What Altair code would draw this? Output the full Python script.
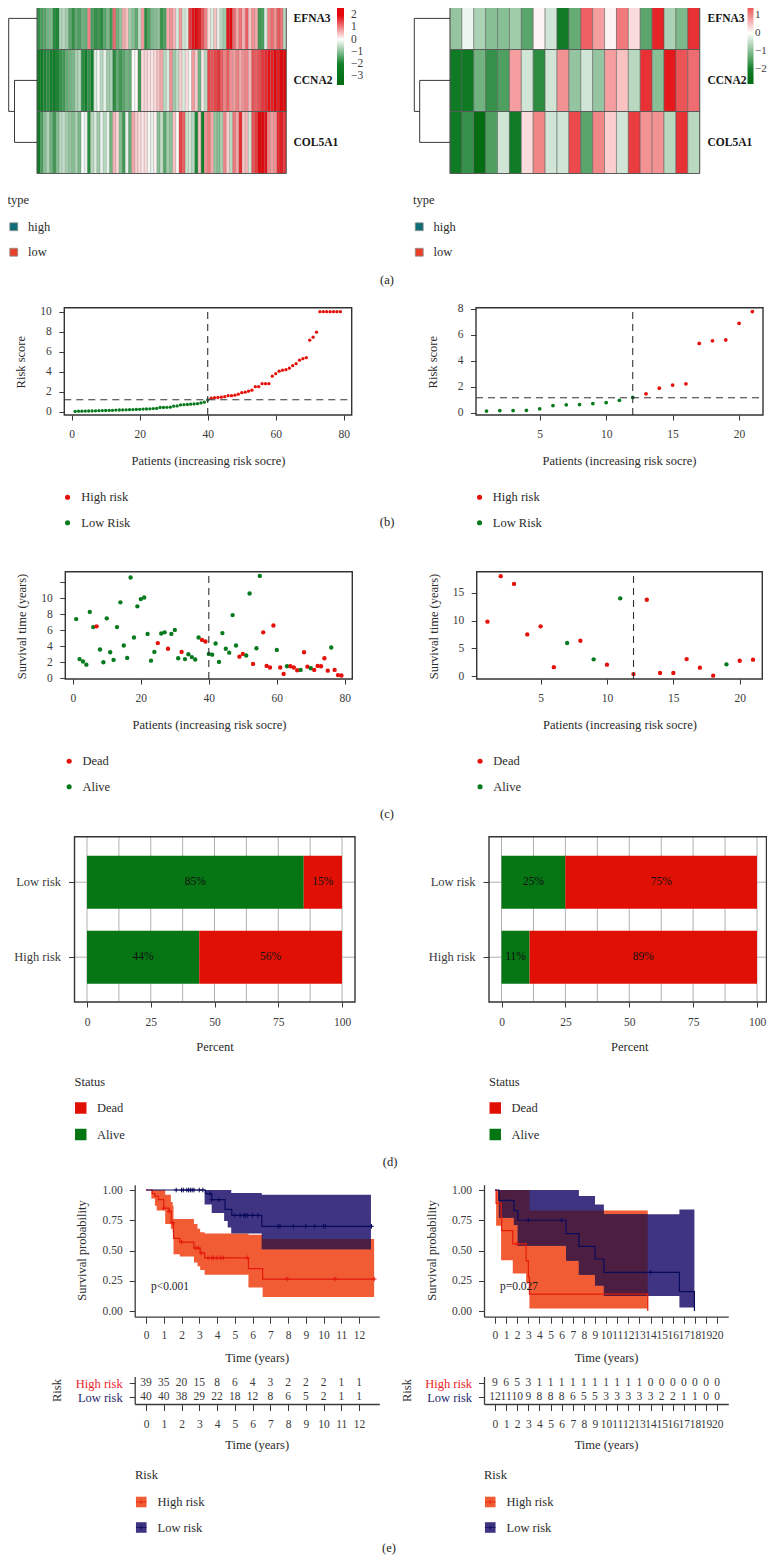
import altair as alt
import pandas as pd

FONT = "Liberation Serif"
FS = 11.5
TS = 12.5
W = 759
H = 1548
TXT = "#2b2b2b"
TICK = "#3a3a3a"
RED = "#e4100a"
GREEN = "#087a1e"
BAR_RED = "#e01005"
BAR_GREEN = "#067514"
LINE_RED = "#e41a0c"
LINE_BLUE = "#0a0a5c"
BAND_RED = "#f25c35"
BAND_BLUE = "#3e3482"
OVERLAP = "#4c1f42"

GENES = ["EFNA3", "CCNA2", "COL5A1"]
L_EFNA3 = [-1.7,-1.5,-1.4,-1.2,-1.1,-1.8,-1.9,-0.7,-0.6,-0.8,-1.4,-1.7,-1.3,-1.5,-1.2,-1.3,1.0,-1.5,-1.7,-1.6,
           -1.8,-1.4,-1.1,-1.6,1.2,-1.2,-0.9,0.7,0.5,-0.8,-1.0,-1.3,-0.5,0.8,-1.8,-1.5,-1.1,-1.0,-0.9,-1.7,
           -1.5,0.7,0.9,0.6,-0.3,0.8,-0.4,-0.3,1.6,1.9,2.0,1.8,1.4,1.0,0.3,-0.3,0.5,-0.2,-0.6,-0.8,
           1.9,2.0,1.2,0.7,1.1,0.6,1.3,0.5,0.9,0.7,-1.6,-1.5,-0.3,1.0,1.2,0.9,1.3,1.1,-0.6]
L_CCNA2 = [-2.4,-2.2,-1.9,-1.8,-2.0,-2.2,-1.9,-1.7,-1.6,-1.3,-1.2,-1.1,-0.7,-0.6,-1.8,-2.0,-1.7,-2.0,-0.3,-0.1,
           -0.6,-0.2,-0.8,-0.7,-1.8,-1.3,-1.6,-1.4,-1.2,-1.3,0.0,0.05,-1.6,0.3,0.35,0.25,0.2,0.3,0.5,0.7,
           -0.6,-0.3,0.9,-0.8,-0.5,0.4,-0.3,0.3,-0.1,0.8,0.4,-1.2,0.2,-0.6,1.5,1.4,1.5,1.6,1.3,1.0,
           1.3,0.9,0.8,1.0,0.7,0.9,1.0,0.6,1.4,1.3,1.4,1.6,1.7,1.9,1.8,2.1,1.8,2.0,2.3]
L_COL5A1 = [-2.3,-1.5,-1.0,-0.7,-1.2,-1.6,-1.0,-0.6,-0.5,-0.8,-0.9,-1.0,-0.7,-1.1,0.0,-0.2,-1.8,-0.6,-0.3,-0.8,
            -0.2,-0.6,-0.2,-1.2,0.6,0.3,-1.0,-1.6,-0.2,-1.3,0.7,0.4,0.3,0.2,0.3,-0.1,-0.2,0.1,-1.0,-0.5,
            -1.4,-0.8,-1.0,0.5,0.05,1.5,1.3,-0.5,-0.4,-0.6,-1.9,0.5,-2.0,0.9,1.1,0.7,-0.9,-1.0,-0.7,1.0,
            0.4,-0.6,1.1,0.7,1.7,0.5,0.6,-0.4,1.4,1.6,2.2,2.3,1.9,1.0,0.8,0.9,1.7,1.8,1.6]
R_EFNA3 = [-0.9,-0.15,-0.7,-1.0,-1.0,-0.8,-1.4,0.1,-0.4,-2.1,-1.3,1.3,0.8,0.1,1.1,0.3,-1.4,1.8,-0.7,-1.1,1.7]
R_CCNA2 = [-2.2,-2.2,-1.2,-1.7,-1.5,0.8,-0.4,-1.8,-0.4,0.9,-0.9,-0.4,-0.9,0.8,0.5,-0.6,1.7,-1.0,1.9,1.4,1.2]
R_COL5A1 = [-2.2,-1.7,-2.7,-1.5,-0.4,-2.1,0.3,1.0,-0.4,-0.4,1.5,-1.4,1.0,0.4,-0.4,1.6,0.9,0.9,-0.6,1.7,-0.6]

RISK_L = [0.03,0.05,0.05,0.06,0.07,0.08,0.09,0.1,0.11,0.12,0.13,0.14,0.16,0.17,0.18,0.19,0.2,0.21,0.23,0.24,
          0.26,0.27,0.29,0.31,0.33,0.42,0.43,0.44,0.45,0.55,0.58,0.68,0.7,0.72,0.75,0.78,0.8,0.88,0.95,1.18,
          1.35,1.4,1.42,1.45,1.5,1.6,1.6,1.65,1.75,1.9,1.95,2.05,2.15,2.5,2.5,2.8,2.8,2.8,3.55,3.8,
          4.05,4.15,4.2,4.35,4.6,4.8,5.15,5.3,5.4,7.15,7.45,7.95,10,10,10,10,10,10,10]
RISK_R = [0.12,0.16,0.16,0.18,0.3,0.55,0.6,0.62,0.7,0.78,0.95,1.17,1.45,1.88,2.12,2.22,5.33,5.53,5.6,6.88,7.78]
SURV_L = [7.4,2.4,2.1,1.7,8.3,6.4,6.5,3.6,2.0,7.5,3.25,2.3,6.4,9.5,4.1,2.55,12.6,5.1,9.0,9.9,
          10.1,5.55,2.2,3.3,4.4,5.6,5.75,3.7,5.55,6.05,2.5,3.3,2.4,3.0,2.65,2.35,5.1,4.8,4.6,3.05,
          2.95,4.35,2.05,5.65,3.7,3.2,7.9,4.1,2.7,3.05,2.85,10.6,1.8,3.75,12.8,5.75,1.55,1.35,6.6,3.55,
          1.35,0.55,1.5,1.5,1.35,1.0,1.05,3.25,1.45,1.25,1.05,1.55,1.5,2.5,0.95,3.85,1.05,0.4,0.35]
DEAD_L = [7,25,28,32,38,39,49,50,53,56,57,58,59,61,62,64,65,66,68,69,71,72,73,74,75,77,78,79]
SURV_R = [9.8,18,16.6,7.5,8.95,1.6,5.95,6.35,3.0,2.05,14,0.35,13.75,0.55,0.55,3.05,1.5,0.06,2.1,2.75,2.95]
ALIVE_R = [7,9,11,19]

KM_L_HIGH_T = [0,0.35,0.5,0.7,1.0,1.3,1.42,1.55,1.9,2.7,3.05,3.3,5.77,6.57,12.85]
KM_L_HIGH_S = [1,.97,.95,.92,.85,.825,.73,.60,.57,.52,.48,.44,.35,.264,.264]
KM_L_HIGH_BT = [0.3,0.5,0.6,1.0,1.08,1.4,1.5,1.55,1.9,2.7,2.9,3.05,3.3,5.77,6.57,12.85]
KM_L_HIGH_HI = [1,1,1,1,.96,.90,.87,.76,.76,.72,.68,.65,.64,.63,.595,.595]
KM_L_HIGH_LO = [.93,.87,.83,.83,.72,.68,.65,.47,.45,.40,.37,.34,.30,.195,.115,.115]
KM_L_LOW_T = [0,3.35,3.7,4.45,4.83,6.52,12.75]
KM_L_LOW_S = [1,.97,.92,.84,.79,.70,.70]
KM_L_LOW_BT = [3.3,3.7,4.4,4.6,4.8,6.52,12.67]
KM_L_LOW_HI = [1,1,1,1,.975,.96,.96]
KM_L_LOW_LO = [.88,.81,.745,.69,.64,.51,.51]
CENS_L_HIGH = [(1.0,.85),(1.3,.825),(1.5,.73),(2.0,.57),(2.8,.52),(2.95,.52),(3.1,.48),(3.5,.44),(3.7,.44),(3.8,.44),
               (4.0,.44),(4.2,.44),(4.35,.44),(5.7,.44),(7.95,.264),(10.65,.264),(12.85,.264)]
CENS_L_LOW = [(1.7,1),(2.0,1),(2.1,1),(2.3,1),(2.4,1),(2.5,1),(2.6,1),(2.7,1),(3.0,1),(3.2,1),(3.6,.97),(3.7,.92),(4.1,.92),
              (5.0,.79),(5.3,.79),(5.5,.79),(5.6,.79),(5.7,.79),(6.0,.79),(6.3,.79),(7.45,.70),(7.55,.70),(8.3,.70),
              (9.0,.70),(9.5,.70),(10.0,.70),(10.1,.70),(12.7,.70)]
KM_R_HIGH_T = [0,.1,.55,.6,1.6,2.8,3.0,3.1,13.75]
KM_R_HIGH_S = [1,.89,.78,.665,.555,.415,.28,.14,0]
KM_R_HIGH_BT = [.1,.55,1.6,2.8,3.1,13.75]
KM_R_HIGH_HI = [1,1,1,1,.83,.83]
KM_R_HIGH_LO = [.705,.42,.31,.23,.02,.02]
KM_R_LOW_T = [0,.35,1.7,2.05,6.4,7.55,9.0,9.8,16.6,17.95]
KM_R_LOW_S = [1,.915,.83,.75,.64,.535,.43,.32,.16,0]
KM_R_LOW_BT = [.35,1.7,2.05,6.4,7.55,9.0,9.8,16.6,17.95]
KM_R_LOW_HI = [1,1,1,1,.95,.88,.80,.84,.84]
KM_R_LOW_LO = [.77,.71,.54,.415,.30,.21,.125,.03,.03]
CENS_R_HIGH = [(2.0,.555)]
CENS_R_LOW = [(3.0,.75),(6.0,.75),(14.0,.32)]

TABLE_L_HIGH = [39,35,20,15,8,6,4,3,2,2,2,1,1]
TABLE_L_LOW = [40,40,38,29,22,18,12,8,6,5,2,1,1]
TABLE_R_HIGH = [9,6,5,3,1,1,1,1,1,1,1,1,1,1,0,0,0,0,0,0,0]
TABLE_R_LOW = [12,11,10,9,8,8,8,6,5,5,3,3,3,3,3,2,2,1,1,0,0]
CAPTIONS = [("(a)", 387, 280), ("(b)", 387, 522), ("(c)", 387, 814), ("(d)", 390, 1162), ("(e)", 389, 1548)]


def P(v):
    return v - 8


def qs(dom, a, b):
    return alt.Scale(domain=dom, range=[P(a), P(b)], nice=False, zero=False)


def xaxis(pos, title=None, tcenter=None, tpos=None, values=None, fmt=None, tick=5.0, pad=8.5, domain=False):
    kw = dict(orient="bottom", offset=pos - 8 - H, values=values, grid=False, domain=domain, tickSize=tick,
              tickColor=TICK, domainColor=TICK, tickWidth=1, domainWidth=1.3, labelPadding=pad, labelFont=FONT,
              labelFontSize=FS, labelColor=TICK, labelOverlap=False, labelFlush=False, labelAngle=0)
    if fmt:
        kw["format"] = fmt
    if title:
        kw.update(title=title, titleX=P(tcenter), titleY=tpos - pos, titleBaseline="middle", titleFont=FONT,
                  titleFontSize=TS, titleFontWeight="normal", titleColor=TXT, titleAlign="center")
    else:
        kw["title"] = None
    return alt.Axis(**kw)


def yaxis(pos, title=None, tpos=None, tcenter=None, values=None, fmt=None, tick=5.5, pad=7.5, domain=False, **extra):
    kw = dict(orient="left", offset=-(pos - 8), grid=False, domain=domain, tickSize=tick, tickColor=TICK,
              domainColor=TICK, tickWidth=1, domainWidth=1.3, labelPadding=pad, labelFont=FONT, labelFontSize=FS,
              labelColor=TICK, labelOverlap=False, labelFlush=False)
    if values is not None:
        kw["values"] = values
    if fmt:
        kw["format"] = fmt
    if title:
        kw.update(title=title, titleX=tpos - pos, titleY=P(tcenter), titleBaseline="middle", titleFont=FONT,
                  titleFontSize=TS, titleFontWeight="normal", titleColor=TXT, titleAlign="center", titleAngle=270)
    else:
        kw["title"] = None
    kw.update(extra)
    return alt.Axis(**kw)


def legend(x, y, title=None, rowp=12.5, titlep=13.5, off=10, **kw):
    args = dict(orient="none", legendX=P(x), legendY=P(y), padding=0, labelFont=FONT, labelFontSize=TS,
                labelColor=TXT, rowPadding=rowp, labelOffset=off, title=title, symbolStrokeWidth=0)
    if title:
        args.update(titleFont=FONT, titleFontSize=TS, titleFontWeight="normal", titleColor=TXT, titlePadding=titlep)
    args.update(kw)
    return alt.Legend(**args)


def axes_panel(x_val, y_val, xs, ys, xax, yax, ytype="Q"):
    d = pd.DataFrame({"x": [x_val], "y": [y_val]})
    return alt.Chart(d).mark_point(opacity=0).encode(
        x=alt.X("x:Q", scale=xs, axis=xax),
        y=alt.Y(f"y:{ytype}", scale=ys, axis=yax))


def heatmap(vals, x0, x1, cdom, crange, cbar_x, cbar_y, cbar_len, ticks, sw, lab_pad, lab_off, thick, lab_fs):
    rows = []
    n = len(vals[0])
    for g, arr in zip(GENES, vals):
        for i, v in enumerate(arr):
            rows.append({"gene": g, "col": i + 1, "v": v})
    ys = alt.Scale(type="band", domain=GENES, range=[P(-12.5), P(173.5)], paddingInner=0, paddingOuter=0)
    xs = alt.Scale(type="band", domain=list(range(1, n + 1)), range=[P(x0), P(x1)], paddingInner=0, paddingOuter=0)
    cs = alt.Scale(domain=cdom, range=crange, interpolate="rgb")
    cells = alt.Chart(pd.DataFrame(rows)).mark_rect(stroke="#5a5a5a", strokeWidth=sw).encode(
        x=alt.X("col:O", scale=xs, axis=None),
        y=alt.Y("gene:N", scale=ys, axis=None),
        color=alt.Color("v:Q", scale=cs, legend=alt.Legend(
            orient="none", legendX=P(cbar_x), legendY=P(cbar_y), title=None, padding=0, gradientLength=cbar_len,
            gradientThickness=thick, gradientStrokeWidth=0, values=ticks, labelFont=FONT, labelFontSize=lab_fs,
            labelColor=TICK, labelOffset=lab_off, labelOverlap=False)),
    )
    border = alt.Chart(pd.DataFrame({"gene": GENES, "a": [0, 0, 0], "b": [1, 1, 1]})).mark_rect(
        fillOpacity=0, fill="white", stroke="#5a5a5a", strokeWidth=1).encode(
        x=alt.X("a:Q", scale=qs([0, 1], x0, x1), axis=None),
        x2="b:Q",
        y=alt.Y("gene:N", scale=ys, axis=None),
    )
    labels = axes_panel(0, "CCNA2", qs([0, 1], x0, x1), ys, None,
                        alt.Axis(orient="right", offset=P(x1) - W, title=None, ticks=False, domain=False, grid=False,
                                 labelPadding=lab_pad, labelFont=FONT, labelFontSize=FS, labelFontWeight="bold",
                                 labelColor="#151515", labelOverlap=False), ytype="N")
    return [cells, border, labels]


def dendro(x_root, x_inner, x_leaf):
    xs = qs([0, 1], x_leaf, x_root)
    ys = qs([0, 2], 18.4, 142.4)
    inner_h = (x_leaf - x_inner) / (x_leaf - x_root)
    segs = pd.DataFrame({
        "a": [0, 1, inner_h, 1, 0, 0],
        "b": [1, 1, inner_h, inner_h, inner_h, inner_h],
        "c": [0, 0, 1, 1.5, 1, 2],
        "d": [0, 1.5, 2, 1.5, 1, 2],
    })
    return alt.Chart(segs).mark_rule(color="#222222", strokeWidth=0.9).encode(
        x=alt.X("a:Q", scale=xs, axis=None), x2="b:Q",
        y=alt.Y("c:Q", scale=ys, axis=None), y2="d:Q")


def type_legend(n, split, x0, x1, lx, off):
    d = pd.DataFrame({"col": list(range(1, n + 1)),
                      "type": ["low" if i <= split else "high" for i in range(1, n + 1)],
                      "t": ["a"] * n})
    return alt.Chart(d).mark_rect().encode(
        x=alt.X("col:O", scale=alt.Scale(domain=list(range(1, n + 1)), range=[P(x0), P(x1)], paddingInner=0,
                                         paddingOuter=0), axis=None),
        y=alt.Y("t:O", scale=alt.Scale(domain=["a"], range=[-40, -30]), axis=None),
        color=alt.Color("type:N", scale=alt.Scale(domain=["high", "low"], range=["#0f6d75", "#e8402a"]),
                        legend=legend(lx, 194, "type", symbolType="square", symbolSize=62, off=off, titlep=14,
                                      symbolStrokeWidth=0.8, symbolStrokeColor="#8a8a8a")),
    )


def frame(x0, x1, y0, y1):
    d = pd.DataFrame({"a": [0], "b": [1], "c": [0], "d": [1]})
    return alt.Chart(d).mark_rect(fill="white", fillOpacity=0, stroke="#333333", strokeWidth=1.4).encode(
        x=alt.X("a:Q", scale=qs([0, 1], x0, x1), axis=None), x2="b:Q",
        y=alt.Y("c:Q", scale=qs([0, 1], y1, y0), axis=None), y2="d:Q")


def scatter(xv, yv, labels, domain_c, xdom, xr, ydom, yr, xax, yax, size, lx, ly, off, vline=None, hline=None,
            lsize=26):
    xs = qs(xdom, *xr)
    ys = qs(ydom, *yr)
    d = pd.DataFrame({"x": xv, "y": yv, "c": labels})
    pts = alt.Chart(d).mark_circle(size=size, opacity=1).encode(
        x=alt.X("x:Q", scale=xs, axis=None),
        y=alt.Y("y:Q", scale=ys, axis=None),
        color=alt.Color("c:N", scale=alt.Scale(domain=domain_c, range=[RED, GREEN]),
                        legend=legend(lx, ly, None, symbolType="circle", symbolSize=lsize, off=off)),
    )
    layers = [axes_panel(xdom[0], ydom[0], xs, ys, xax, yax), pts]
    if vline is not None:
        layers.append(alt.Chart(pd.DataFrame({"x": [vline], "a": [ydom[0]], "b": [ydom[1]]})).mark_rule(
            color="#333333", strokeWidth=1.1, strokeDash=[7, 5]).encode(
            x=alt.X("x:Q", scale=xs, axis=None), y=alt.Y("a:Q", scale=ys, axis=None), y2="b:Q"))
    if hline is not None:
        layers.append(alt.Chart(pd.DataFrame({"y": [hline], "a": [xdom[0]], "b": [xdom[1]]})).mark_rule(
            color="#333333", strokeWidth=1.1, strokeDash=[7, 5]).encode(
            y=alt.Y("y:Q", scale=ys, axis=None), x=alt.X("a:Q", scale=xs, axis=None), x2="b:Q"))
    return layers


def bars(alive_low, alive_high, xa, xb, fx0, fx1):
    xdom = [(fx0 - xa) / (xb - xa) * 100, (fx1 - xa) / (xb - xa) * 100]
    xs = qs(xdom, fx0, fx1)
    cats = ["Low risk", "High risk"]
    ys = alt.Scale(type="band", domain=cats, range=[P(855.7), P(983.7)], paddingInner=0.2933, paddingOuter=0)
    rows = []
    for cat, al in zip(cats, [alive_low, alive_high]):
        rows.append({"g": cat, "s": "Alive", "a": 0, "b": al, "m": al / 2, "t": f"{al}%"})
        rows.append({"g": cat, "s": "Dead", "a": al, "b": 100, "m": (al + 100) / 2, "t": f"{100 - al}%"})
    d = pd.DataFrame(rows)
    fy = qs([0, 1], 1002, 836.7)
    vg = alt.Chart(pd.DataFrame({"x": [v * 12.5 for v in range(0, 9)], "a": [0] * 9, "b": [1] * 9})).mark_rule(
        color="#b0b0b0", strokeWidth=1).encode(
        x=alt.X("x:Q", scale=xs, axis=None), y=alt.Y("a:Q", scale=fy, axis=None), y2="b:Q")
    hg = alt.Chart(pd.DataFrame({"g": cats, "a": [xdom[0]] * 2, "b": [xdom[1]] * 2})).mark_rule(
        color="#b0b0b0", strokeWidth=1).encode(
        y=alt.Y("g:N", scale=ys, axis=None),
        x=alt.X("a:Q", scale=xs, axis=None), x2="b:Q")
    ax = axes_panel(0, "Low risk", xs, ys,
                    xaxis(1002, "Percent", (xa + xb) / 2, 1046, [0, 25, 50, 75, 100], pad=9),
                    yaxis(fx0, pad=8, tick=6, labelFontSize=TS), ytype="N")
    rect = alt.Chart(d).mark_bar().encode(
        x=alt.X("a:Q", scale=xs, axis=None),
        x2="b:Q",
        y=alt.Y("g:N", scale=ys, axis=None),
        color=alt.Color("s:N", scale=alt.Scale(domain=["Dead", "Alive"], range=[BAR_RED, BAR_GREEN]),
                        legend=legend(fx0, 1076, "Status", symbolType="square", symbolSize=132, off=10, rowp=13.5,
                                      titlep=13.25)),
    )
    txt = alt.Chart(d).mark_text(font=FONT, fontSize=FS, color="#111111").encode(
        x=alt.X("m:Q", scale=xs, axis=None), y=alt.Y("g:N", scale=ys, axis=None), text="t:N")
    return [vg, hg, ax, rect, txt, frame(fx0, fx1, 836.7, 1002)]


def stepval(ts, vs, t):
    cur = None
    for a, v in zip(ts, vs):
        if a <= t:
            cur = v
    return cur


def km(high, low, band_h, band_l, cens_h, cens_l, xdom, xr, xvals, ptext, ptx, pty, ytitle_x, xtitle_c, leg_x):
    xs = qs(xdom, *xr)
    ys = qs([-0.047, 1.044], 1316.7, 1184.7)
    RISKS = ["High risk", "Low risk"]
    fill_scale = alt.Scale(domain=RISKS, range=[BAND_RED, BAND_BLUE])
    stroke_scale = alt.Scale(domain=RISKS, range=[LINE_RED, LINE_BLUE])
    dh = pd.DataFrame({"t": band_h[0], "hi": band_h[1], "lo": band_h[2], "r": "High risk"})
    dl = pd.DataFrame({"t": band_l[0], "hi": band_l[1], "lo": band_l[2], "r": "Low risk"})
    bands = pd.concat([dh, dl])
    fill_leg = legend(leg_x, 1469, "Risk", symbolType="square", symbolSize=112, off=10, titlep=14.25)
    ax = axes_panel(xdom[0], 0, xs, ys,
                    xaxis(1316.7, "Time (years)", xtitle_c, 1357.3, xvals, tick=6.5, pad=6.5, domain=True),
                    yaxis(xr[0], "Survival probability", ytitle_x, 1250, [0, 0.25, 0.5, 0.75, 1], ".2f",
                          domain=True, pad=7))
    a1 = alt.Chart(bands).mark_area(interpolate="step-after", opacity=1).encode(
        x=alt.X("t:Q", scale=xs, axis=None),
        y=alt.Y("lo:Q", scale=ys, axis=None),
        y2="hi:Q",
        fill=alt.Fill("r:N", scale=fill_scale, legend=fill_leg),
        detail="r:N",
    )
    ts = sorted(set(band_h[0]) | set(band_l[0]))
    rows = []
    for t in ts:
        vals = [stepval(band_h[0], band_h[2], t), stepval(band_l[0], band_l[2], t),
                stepval(band_h[0], band_h[1], t), stepval(band_l[0], band_l[1], t)]
        if None in vals or t >= min(band_h[0][-1], band_l[0][-1]):
            rows.append({"t": t, "lo": 0, "hi": 0})
        else:
            lo = max(vals[0], vals[1])
            hi = min(vals[2], vals[3])
            rows.append({"t": t, "lo": lo if hi > lo else 0, "hi": hi if hi > lo else 0})
    ov = pd.DataFrame(rows)
    ov = ov[ov["t"] >= max(band_h[0][0], band_l[0][0])]
    ov = ov[ov["t"] <= min(band_h[0][-1], band_l[0][-1])]
    a2 = alt.Chart(ov).mark_area(interpolate="step-after", color=OVERLAP, opacity=1).encode(
        x=alt.X("t:Q", scale=xs, axis=None), y=alt.Y("lo:Q", scale=ys, axis=None), y2="hi:Q")
    lines = pd.concat([pd.DataFrame({"t": high[0], "s": high[1], "r": "High risk"}),
                       pd.DataFrame({"t": low[0], "s": low[1], "r": "Low risk"})])
    l1 = alt.Chart(lines).mark_line(interpolate="step-after", strokeWidth=1.2).encode(
        x=alt.X("t:Q", scale=xs, axis=None), y=alt.Y("s:Q", scale=ys, axis=None),
        stroke=alt.Stroke("r:N", scale=stroke_scale, legend=None), order="t:Q")
    cens = pd.concat([pd.DataFrame({"t": [c[0] for c in cens_h], "s": [c[1] for c in cens_h], "r": "High risk"}),
                      pd.DataFrame({"t": [c[0] for c in cens_l], "s": [c[1] for c in cens_l], "r": "Low risk"})])
    c1 = alt.Chart(cens).mark_point(shape="M-1,0H1M0,-1V1", size=22, filled=False, strokeWidth=1, opacity=1).encode(
        x=alt.X("t:Q", scale=xs, axis=None), y=alt.Y("s:Q", scale=ys, axis=None),
        stroke=alt.Stroke("r:N", scale=stroke_scale, legend=None))
    ptxt = alt.Chart(pd.DataFrame({"t": [ptx], "s": [pty], "p": [ptext]})).mark_text(
        font=FONT, fontSize=FS, color="#1a1a1a", align="left").encode(
        x=alt.X("t:Q", scale=xs, axis=None), y=alt.Y("s:Q", scale=ys, axis=None), text="p:N")
    # second legend: the line and censor mark drawn over each band swatch
    key = pd.DataFrame({"r": ["High risk ", "Low risk "], "x": [0, 0], "y": ["a", "a"]})
    key_leg = legend(leg_x, 1469, "Risk", symbolType="M-1,0H1M0,-0.4V0.4", symbolSize=112, off=10, titlep=14.25,
                     titleOpacity=0, labelOpacity=0, symbolStrokeWidth=1.2, symbolFillColor="transparent", zindex=1)
    k1 = alt.Chart(key).mark_point(filled=False).encode(
        x=alt.X("x:Q", scale=xs, axis=None),
        y=alt.Y("y:O", scale=alt.Scale(domain=["a"], range=[-60, -50]), axis=None),
        stroke=alt.Stroke("r:N", scale=alt.Scale(domain=["High risk ", "Low risk "], range=[LINE_RED, LINE_BLUE]),
                          legend=key_leg))
    return [ax, a1, a2, l1, c1, ptxt, k1]


def table(high, low, xdom, xr, xvals, y_pos_title, lab_c):
    xs = qs(xdom, *xr)
    cats = ["High risk", "Low risk"]
    ys = alt.Scale(domain=cats, range=[P(1376.5), P(1404)], paddingInner=0, paddingOuter=0)
    rows = [{"t": t, "g": "High risk", "n": str(v)} for t, v in zip(xvals, high)]
    rows += [{"t": t, "g": "Low risk", "n": str(v)} for t, v in zip(xvals, low)]
    return alt.Chart(pd.DataFrame(rows)).mark_text(font=FONT, fontSize=FS, color=TICK).encode(
        x=alt.X("t:Q", scale=xs, axis=xaxis(1404, "Time (years)", lab_c, 1444.3, xvals, tick=6.5, pad=8,
                                            domain=True)),
        y=alt.Y("g:N", scale=ys, axis=alt.Axis(
            orient="left", offset=-P(xr[0]), title="Risk", titleX=y_pos_title - xr[0], titleY=P(1390),
            titleBaseline="middle", titleAlign="center", titleAngle=270, titleFont=FONT, titleFontSize=TS,
            titleFontWeight="normal", titleColor=TXT, domain=True, domainColor=TICK, domainWidth=1.3, tickSize=5.5,
            tickColor=TICK, tickWidth=1, labelPadding=7, labelFont=FONT, labelFontSize=TS, grid=False,
            labelOverlap=False,
            labelColor={"condition": {"test": "datum.value === 'High risk'", "value": "#e8242c"},
                        "value": "#27276f"})),
        text="n:N")


idx_l = list(range(1, 80))
idx_r = list(range(1, 22))
risk_lab_l = ["Low Risk" if i <= 40 else "High risk" for i in idx_l]
risk_lab_r = ["Low Risk" if i <= 12 else "High risk" for i in idx_r]
st_l = ["Dead" if i in DEAD_L else "Alive" for i in idx_l]
st_r = ["Alive" if i in ALIVE_R else "Dead" for i in idx_r]

panels = []
panels += heatmap([L_EFNA3, L_CCNA2, L_COL5A1], 37, 286.3, [-3.74, -2, 0, 2, 2.6],
                  ["#006a10", "#0f8028", "#ffffff", "#e3060a", "#e3060a"], 337, 8, 77, [-3, -2, -1, 0, 1, 2],
                  0.2, 6.7, 7, 7, FS)
panels += heatmap([R_EFNA3, R_CCNA2, R_COL5A1], 450, 699.7, [-2.83, -2, 0, 2.05],
                  ["#006a10", "#137f2b", "#ffffff", "#e3060a"], 747.5, -4, 88, [-2, -1, 0, 1],
                  0.5, 7.3, 1.5, 6, 11)
panels += [dendro(8.7, 14.5, 37), dendro(414.3, 419.7, 450),
           type_legend(79, 40, 37, 286.3, 7.5, 8), type_legend(21, 12, 450, 699.7, 413, 8)]

panels.append(frame(64.3, 351.7, 307.7, 415))
panels += scatter(idx_l, RISK_L, risk_lab_l, ["High risk", "Low Risk"], [-2.18, 82.35], (64.3, 351.7), [-0.33, 10.4], (415, 307.7),
                  xaxis(415, "Patients (increasing risk socre)", 208, 460.7, [0, 20, 40, 60, 80]),
                  yaxis(64.3, "Risk score", 20.7, 361.7, [0, 2, 4, 6, 8, 10]), 11, 61.3, 491, 7.5, vline=40, hline=1.2)
panels.append(frame(476, 763, 307.7, 415))
panels += scatter(idx_r, RISK_R, risk_lab_r, ["High risk", "Low Risk"], [0.21, 21.8], (476, 763), [-0.18, 8.08], (415, 307.7),
                  xaxis(415, "Patients (increasing risk socre)", 619, 460.7, [5, 10, 15, 20]),
                  yaxis(476, "Risk score", 432, 361.7, [0, 2, 4, 6, 8]), 14, 473.3, 491, 7, vline=12, hline=1.15)

panels.append(frame(65.3, 352.3, 571.7, 679))
panels += scatter(idx_l, SURV_L, st_l, ["Dead", "Alive"], [-2.2, 82.2], (65.3, 352.3), [-0.09, 13.33], (679, 571.7),
                  xaxis(679, "Patients (increasing risk socre)", 209, 724.3, [0, 20, 40, 60, 80]),
                  yaxis(65.3, "Survival time (years)", 21.3, 626, [0, 2, 4, 6, 8, 10, 12],
                        labelExpr="datum.value < 12 ? datum.label : ''"), 19, 62.9, 755, 7, vline=40)
panels.append(frame(476.7, 762.3, 571.7, 679))
panels += scatter(idx_r, SURV_R, st_r, ["Dead", "Alive"], [0.19, 21.7], (476.7, 762.3), [-0.54, 18.8], (679, 571.7),
                  xaxis(679, "Patients (increasing risk socre)", 619.5, 724.3, [5, 10, 15, 20]),
                  yaxis(476.7, "Survival time (years)", 433.7, 626, [0, 5, 10, 15]), 19, 473.8, 755, 7, vline=12)

panels += bars(85, 44, 87, 342, 74.5, 355)
panels += bars(25, 11, 501.5, 757, 489, 766.5)

panels += km((KM_L_HIGH_T, KM_L_HIGH_S), (KM_L_LOW_T, KM_L_LOW_S), (KM_L_HIGH_BT, KM_L_HIGH_HI, KM_L_HIGH_LO),
             (KM_L_LOW_BT, KM_L_LOW_HI, KM_L_LOW_LO), CENS_L_HIGH, CENS_L_LOW, [-0.637, 13.14], (134.7, 379.3),
             list(range(13)), "p<0.001", 0.28, 0.2, 81.7, 256.7, 135)
panels += km((KM_R_HIGH_T, KM_R_HIGH_S), (KM_R_LOW_T, KM_R_LOW_S), (KM_R_HIGH_BT, KM_R_HIGH_HI, KM_R_HIGH_LO),
             (KM_R_LOW_BT, KM_R_LOW_HI, KM_R_LOW_LO), CENS_R_HIGH, CENS_R_LOW, [-0.99, 21.0], (484, 728.3),
             list(range(21)), "p=0.027", 0.45, 0.2, 431.7, 606, 484)
panels += [table(TABLE_L_HIGH, TABLE_L_LOW, [-0.637, 13.14], (134.7, 379.3), list(range(13)), 56.7, 256.7),
           table(TABLE_R_HIGH, TABLE_R_LOW, [-0.99, 21.0], (484, 728.3), list(range(21)), 406, 606)]

for text, cx, cy in CAPTIONS:
    panels.append(alt.Chart(pd.DataFrame({"c": [text]})).mark_text(font=FONT, fontSize=12.5, color="#222222").encode(
        x=alt.value(P(cx)), y=alt.value(P(cy)), text="c:N"))

chart = alt.layer(*panels).resolve_scale(
    x="independent", y="independent", color="independent", fill="independent", stroke="independent"
).properties(width=W, height=H, padding=0, autosize=alt.AutoSizeParams(type="none")).configure_view(stroke=None)

chart.save("out.html", embed_options={"renderer": "svg", "actions": False})
